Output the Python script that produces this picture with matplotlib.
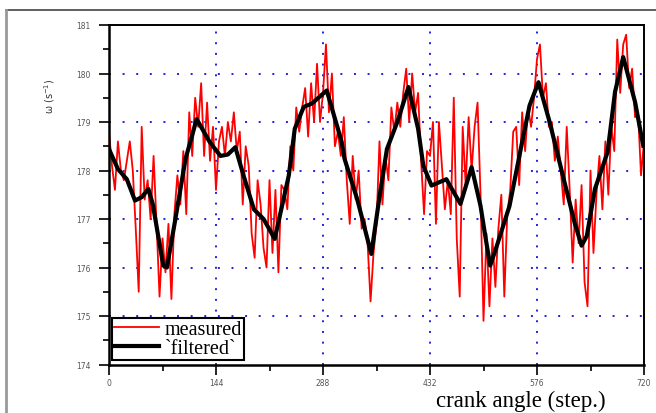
import matplotlib
matplotlib.use('Agg')
import matplotlib.pyplot as plt
from matplotlib.lines import Line2D

# measured speed, read every 4 steps off the reference
x_meas = list(range(0, 721, 4))
y_meas = [
    178.8, 178.1, 177.6, 178.6, 178.0, 177.8, 178.2, 178.6, 178.0, 176.8,
    175.5, 178.9, 177.4, 177.8, 177.0, 178.3, 176.9, 175.4, 176.6, 175.9,
    176.9, 175.35, 177.1, 177.9, 177.3, 178.4,
    177.1, 179.2, 178.3, 179.5, 178.9, 179.8, 178.3, 179.4, 178.2, 178.9,
    177.6, 178.6, 178.9, 178.3, 179.0, 178.6, 179.2, 178.4, 178.8, 177.3,
    178.5, 178.1, 176.7, 176.2, 177.8, 177.3, 176.4,
    176.0, 177.8, 176.3, 177.6, 175.9, 177.7, 177.6, 177.2, 178.5, 178.0,
    179.3, 178.8, 179.3, 179.7, 178.7, 179.8, 179.0, 180.2, 179.0, 179.6,
    180.6, 179.2, 180.0, 178.5, 178.8, 178.3,
    179.1, 177.8, 176.9, 178.3, 177.4, 178.0, 176.8, 177.0, 176.5, 175.3,
    176.3, 176.9, 178.6, 177.3, 178.3, 177.8, 179.3, 178.8, 179.4, 178.9,
    179.6, 180.1, 179.0, 180.0, 179.2, 179.6, 178.2,
    177.1, 178.4, 178.3, 179.0, 176.9, 179.0, 178.1, 177.2, 177.8, 177.1,
    179.5, 176.6, 175.4, 178.9, 177.7, 179.1, 178.0, 178.9, 179.4, 177.5,
    174.9, 176.7, 175.2, 176.6, 175.6, 176.8,
    177.5, 175.4, 177.1, 177.6, 178.8, 178.9, 177.7, 179.2, 178.4, 179.3,
    178.9, 179.5, 180.3, 180.6, 179.5, 179.8, 178.9, 179.0, 178.2, 178.7,
    178.0, 177.3, 178.9, 177.6, 176.1, 177.4,
    176.5, 177.7, 175.7, 175.2, 178.0, 176.3, 177.5, 178.3, 177.2, 178.6,
    177.5, 178.9, 178.4, 180.7, 179.6, 180.6, 180.8, 179.7, 180.1, 179.1,
    179.2, 177.9, 178.6,
]

# filtered curve
x_filt = [0, 12, 24, 35, 44, 53, 59, 73, 78, 89, 103, 118, 135, 150, 160,
          170, 181, 195, 208, 223, 242, 250, 262, 273, 293, 313, 317, 334,
          353, 365, 374, 388, 403, 416, 423, 434, 454, 473, 488, 500, 507,
          513, 521, 539, 555, 566, 578, 593, 612, 627, 636, 643, 654, 671,
          681, 692, 708, 719]
y_filt = [178.44, 178.03, 177.82, 177.38, 177.45, 177.62, 177.3, 176.04, 176.0,
          176.97, 178.24, 179.06, 178.6, 178.3, 178.33, 178.48, 177.9, 177.2,
          177.0, 176.59, 177.9, 178.86, 179.31, 179.38, 179.65, 178.6, 178.24,
          177.41, 176.28, 177.56, 178.44, 179.0, 179.72, 178.86, 178.1, 177.69,
          177.82, 177.31, 178.07, 177.27, 176.59, 176.04, 176.4, 177.27, 178.51,
          179.34, 179.82, 179.0, 177.82, 176.9, 176.45, 176.65, 177.62, 178.38,
          179.62, 180.34, 179.41, 178.51]

x_ticks = [0, 144, 288, 432, 576, 720]
x_ticklabels = ['0', '144', '288', '432', '576', '720']
y_ticks = [174, 175, 176, 177, 178, 179, 180, 181]

fig = plt.figure(figsize=(6.56, 4.14), dpi=100, facecolor='white')
ax = fig.add_axes([109/656, 1-365.5/414, 535/656, 339.5/414])

# grid
for gx in x_ticks[1:-1]:
    ax.axvline(gx, color='#2020e0', lw=1.4, ls=(0, (1, 4.5)), zorder=0)
for gy in y_ticks[1:-1]:
    ax.axhline(gy, color='#2020e0', lw=1.4, ls=(0, (1, 6)), zorder=0)

ax.plot(x_meas, y_meas, color='red', lw=1.3, label='measured', zorder=2)
ax.plot(x_filt, y_filt, color='black', lw=3.0, label='`filtered`', zorder=3)

ax.set_xlim(0, 720)
ax.set_ylim(174, 181)
ax.set_xticks(x_ticks)
ax.set_xticklabels(x_ticklabels)
ax.set_xticks([72, 216, 360, 504, 648], minor=True)
ax.set_yticks(y_ticks)
ax.set_yticks([174.5 + i for i in range(7)], minor=True)
ax.tick_params(which='major', direction='out', length=7, width=1.2,
               labelsize=5.5, labelcolor='#555555')
ax.tick_params(which='minor', direction='out', length=4, width=1.2)
ax.tick_params(axis='y', pad=6)
ax.tick_params(axis='x', pad=3)
for s in ['left', 'bottom']:
    ax.spines[s].set_linewidth(1.8)
for s in ['top', 'right']:
    ax.spines[s].set_linewidth(1.4)

leg = ax.legend(loc='lower left', bbox_to_anchor=(0.006, 0.012),
                prop={'family': 'Liberation Serif', 'size': 14.5},
                handlelength=2.2, handletextpad=0.3, labelspacing=0.0,
                borderpad=0.1, borderaxespad=0, frameon=True, fancybox=False,
                edgecolor='black', framealpha=1)
leg.get_frame().set_linewidth(1.5)

fig.text(436/656, 1-401/414, 'crank angle (step.)', family='Liberation Serif',
         fontsize=16.5, ha='left', va='center')
fig.text(50/656, 1-96/414, 'ω (s$^{-1}$)', fontsize=7, rotation=90,
         ha='center', va='center', color='#333333')

# outer frame of the picture
fig.add_artist(Line2D([6/656, 1], [1-11/414, 1-11/414], color='#444444', lw=1.2))
fig.add_artist(Line2D([6/656, 6/656], [0, 1-11/414], color='#999999', lw=2))

fig.savefig('out.png', dpi=100, facecolor='white')
plt.close()
